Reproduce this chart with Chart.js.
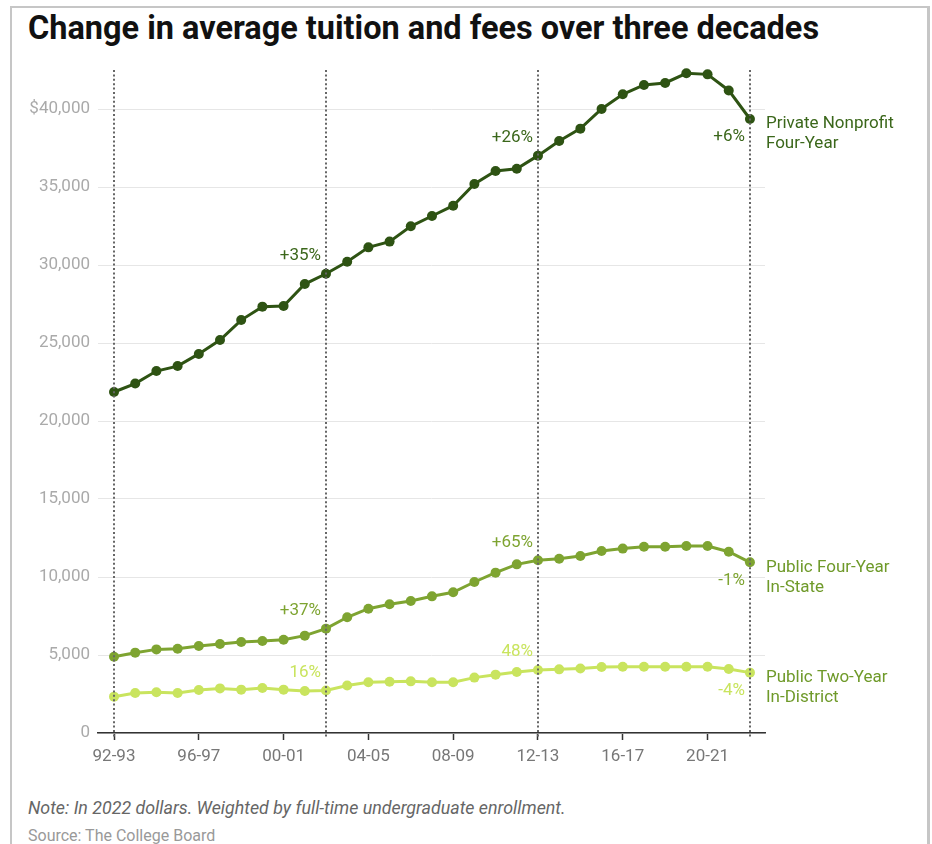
<!DOCTYPE html>
<html>
<head>
<meta charset="utf-8">
<title>Change in average tuition and fees over three decades</title>
<script src="https://cdn.jsdelivr.net/npm/chart.js@4.4.1/dist/chart.umd.min.js"></script>
<style>
  html, body { margin: 0; padding: 0; background: #fff; }
  body { width: 932px; height: 844px; position: relative; overflow: hidden; font-family: Roboto, "Noto Sans", sans-serif; }
  .marco { position: absolute; left: 10px; top: 6px; width: 920px; height: 900px; border: 2px solid #c6c6c6; border-right-width: 3px; box-sizing: border-box; }
  h1 { position: absolute; left: 28px; top: 7px; margin: 0; font-size: 34px; line-height: 40px; font-weight: 700; color: #111; white-space: nowrap; transform: scaleX(0.955); transform-origin: left top; }
  #grafico { position: absolute; left: 0; top: 0; }
  .nota { position: absolute; left: 28px; top: 797px; font-size: 18px; font-style: italic; color: #666; white-space: nowrap; transform: scaleX(0.99); transform-origin: left top; }
  .fuente { position: absolute; left: 28px; top: 826px; font-size: 16px; color: #999; white-space: nowrap; }
</style>
</head>
<body>
<div class="marco"></div>
<h1>Change in average tuition and fees over three decades</h1>
<canvas id="grafico" width="932" height="775"></canvas>
<div class="nota">Note: In 2022 dollars. Weighted by full-time undergraduate enrollment.</div>
<div class="fuente">Source: The College Board</div>

<script>
// Academic years, 1992-93 through 2022-23
const seasons = [
  '92-93', '93-94', '94-95', '95-96', '96-97', '97-98', '98-99', '99-00', '00-01', '01-02',
  '02-03', '03-04', '04-05', '05-06', '06-07', '07-08', '08-09', '09-10', '10-11', '11-12',
  '12-13', '13-14', '14-15', '15-16', '16-17', '17-18', '18-19', '19-20', '20-21', '21-22',
  '22-23'
];

// Average published tuition and fees, 2022 dollars
const privateFourYear = [
  21860, 22400, 23200, 23520, 24300, 25190, 26470, 27330, 27370, 28780,
  29440, 30210, 31130, 31500, 32480, 33140, 33800, 35190, 36030, 36170,
  37010, 37950, 38740, 40000, 40940, 41540, 41670, 42290, 42220, 41190,
  39360
];
const publicFourYear = [
  4890, 5150, 5360, 5400, 5580, 5710, 5830, 5900, 5980, 6240,
  6690, 7420, 7970, 8250, 8460, 8760, 9020, 9680, 10280, 10810,
  11070, 11170, 11350, 11670, 11820, 11940, 11940, 11990, 11990, 11620,
  10940
];
const publicTwoYear = [
  2330, 2560, 2610, 2560, 2760, 2860, 2780, 2880, 2780, 2690,
  2730, 3050, 3250, 3290, 3310, 3250, 3250, 3550, 3740, 3910,
  4040, 4080, 4140, 4230, 4250, 4250, 4250, 4250, 4250, 4100,
  3870
];

const seriesNames = [
  ['Private Nonprofit', 'Four-Year'],
  ['Public Four-Year', 'In-State'],
  ['Public Two-Year', 'In-District']
];

// Change between the marked years (02-03, 12-13, 22-23)
const changeLabels = [
  ['+35%', '+26%', '+6%'],
  ['+37%', '+65%', '-1%'],
  ['16%', '48%', '-4%']
];
const markedYears = ['92-93', '02-03', '12-13', '22-23'];
const xTickLabels = ['92-93', '96-97', '00-01', '04-05', '08-09', '12-13', '16-17', '20-21'];
const yTickValues = [0, 5000, 10000, 15000, 20000, 25000, 30000, 35000, 40000];

const lineColors = ['#2e5313', '#7ea431', '#c9e45e'];
const nameColors = ['#3b671b', '#6f9a2a', '#6f9a2a'];
const changeColors = ['#3b671b', '#7ea431', '#c9e45e'];

const FONT = 'Roboto, "Noto Sans", sans-serif';

function toPoints(values) {
  return values.map((v, i) => ({ x: i, y: v }));
}

// Dotted decade markers, change labels and the series names at the right edge
const decoraciones = {
  id: 'decoraciones',
  afterDatasetsDraw(chart) {
    const { ctx, chartArea, scales } = chart;
    const x = scales.x;

    ctx.save();
    ctx.strokeStyle = '#666';
    ctx.lineWidth = 2;
    ctx.setLineDash([2, 2.4]);
    markedYears.forEach(y => {
      const px = Math.round(x.getPixelForValue(seasons.indexOf(y)));
      ctx.beginPath();
      ctx.moveTo(px, chartArea.top);
      ctx.lineTo(px, chartArea.bottom + 4);
      ctx.stroke();
    });
    ctx.restore();

    ctx.save();
    ctx.font = `17px ${FONT}`;
    ctx.textAlign = 'right';
    ctx.textBaseline = 'middle';
    changeLabels.forEach((labels, s) => {
      const meta = chart.getDatasetMeta(s);
      labels.forEach((txt, k) => {
        const idx = seasons.indexOf(markedYears[k + 1]);
        const pt = meta.data[idx];
        const last = k === labels.length - 1;
        ctx.fillStyle = changeColors[s];
        ctx.fillText(txt, pt.x - 5, last ? pt.y + 18 : pt.y - 18);
      });
    });
    ctx.restore();

    ctx.save();
    ctx.font = `17px ${FONT}`;
    ctx.textAlign = 'left';
    ctx.textBaseline = 'middle';
    seriesNames.forEach((lines, s) => {
      const meta = chart.getDatasetMeta(s);
      const pt = meta.data[meta.data.length - 1];
      ctx.fillStyle = nameColors[s];
      lines.forEach((ln, j) => ctx.fillText(ln, pt.x + 16, pt.y + 5 + j * 20));
    });
    ctx.restore();
  }
};

const ctx = document.getElementById('grafico').getContext('2d');
const datasets = [privateFourYear, publicFourYear, publicTwoYear].map((values, i) => ({
  label: seriesNames[i].join(' '),
  data: toPoints(values),
  borderColor: lineColors[i],
  backgroundColor: lineColors[i],
  borderWidth: 3,
  pointRadius: 5,
  pointHoverRadius: 5,
  pointBorderWidth: 0,
  tension: 0,
  clip: false
}));

new Chart(ctx, {
  type: 'line',
  data: { datasets },
  plugins: [decoraciones],
  options: {
    responsive: false,
    animation: false,
    devicePixelRatio: 1,
    layout: { padding: { left: 0, right: 167, top: 70, bottom: 0 } },
    plugins: { legend: { display: false }, tooltip: { enabled: false } },
    scales: {
      x: {
        type: 'linear',
        min: -0.755,
        max: 30.71,
        afterBuildTicks: s => { s.ticks = xTickLabels.map(l => ({ value: seasons.indexOf(l) })); },
        afterFit: s => { s.height = 42; },
        ticks: {
          autoSkip: false,
          maxRotation: 0,
          padding: 7,
          color: '#777',
          font: { family: FONT, size: 17 },
          callback: v => seasons[v]
        },
        grid: { drawOnChartArea: false, drawTicks: true, tickLength: 7, tickColor: '#333', tickWidth: 1.5 },
        border: { display: true, color: '#333', width: 1.5 }
      },
      y: {
        type: 'linear',
        min: 0,
        max: 42500,
        afterBuildTicks: s => { s.ticks = yTickValues.map(v => ({ value: v })); },
        afterFit: s => { s.width = 98; },
        ticks: {
          autoSkip: false,
          padding: 8,
          color: '#aaa',
          font: { family: FONT, size: 17 },
          callback: v => (v === 40000 ? '$' : '') + Number(v).toLocaleString('en-US')
        },
        grid: { color: '#e6e6e6', lineWidth: 1, drawTicks: false },
        border: { display: false }
      }
    }
  }
});
</script>
</body>
</html>
